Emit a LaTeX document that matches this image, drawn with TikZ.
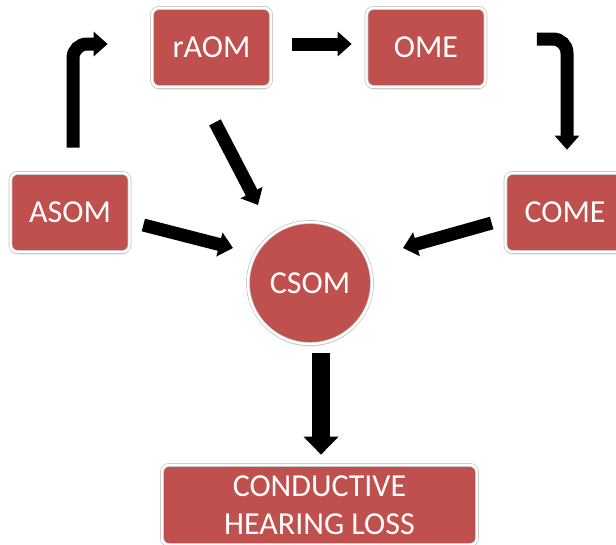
\documentclass[tikz,border=0pt]{standalone}
\usepackage{fontspec}
\setmainfont{Carlito}
\usetikzlibrary{arrows.meta,shadows,calc,shapes.geometric}
\definecolor{boxred}{HTML}{C0504D}
\definecolor{rimgray}{HTML}{C4C4C4}
\begin{document}
\begin{tikzpicture}[x=1pt,y=-1pt,
  box/.style={rectangle, rounded corners=7pt, fill=boxred, draw=rimgray,
    line width=0.7pt, double=white, double distance=2.4pt, text=white,
    font=\fontsize{32}{38}\selectfont, minimum width=119pt, minimum height=79pt,
    inner sep=0pt,
    drop shadow={opacity=0.25, shadow xshift=0pt, shadow yshift=-2.5pt}},
  oval/.style={box, ellipse, rounded corners=0pt},
  blk/.style={line width=13pt, -{Triangle[width=24pt,length=14pt]}, black},
  bigblk/.style={line width=18pt, -{Triangle[width=34pt,length=18pt]}, black},
]
\useasboundingbox (0,0) rectangle (616,544);

% boxes
\node[box] (raom) at (211.5,47.5) {rAOM};
\node[box] (ome)  at (426,47.5) {OME};
\node[box] (asom) at (70,212.5) {ASOM};
\node[box] (come) at (565,212.5) {COME};
\node[oval, minimum width=124pt, minimum height=122pt] (csom) at (310,283) {CSOM};
\node[box, minimum width=315pt, minimum height=80pt, align=center] (chl)
  at (319.5,505) {CONDUCTIVE\\HEARING LOSS};

% top row
\draw[blk] ($(raom.east)+(21,-3.5)$) -- ($(ome.west)+(-14.5,-3.5)$);

% bent arrows
\draw[blk, rounded corners=14pt] ($(asom.north)+(3,-25)$) |- ($(raom.west)+(-44,-3.5)$);
\draw[blk, rounded corners=14pt] ($(ome.east)+(51,-8.5)$) -| ($(come.north)+(2,-23)$);

% into CSOM
\draw[blk] ($(raom.south)+(3.5,35)$) -- ($(csom.center)+(-52,-78)$);
\draw[blk] ($(asom.east)+(13.5,12.5)$) -- ($(csom.center)+(-77,-35)$);
\draw[blk] ($(come.west)+(-13.5,10.5)$) -- ($(csom.center)+(93,-35)$);

% outcome
\draw[bigblk] ($(csom.south)+(11,9)$) -- ($(chl.north)+(1.5,-10)$);
\end{tikzpicture}
\end{document}
